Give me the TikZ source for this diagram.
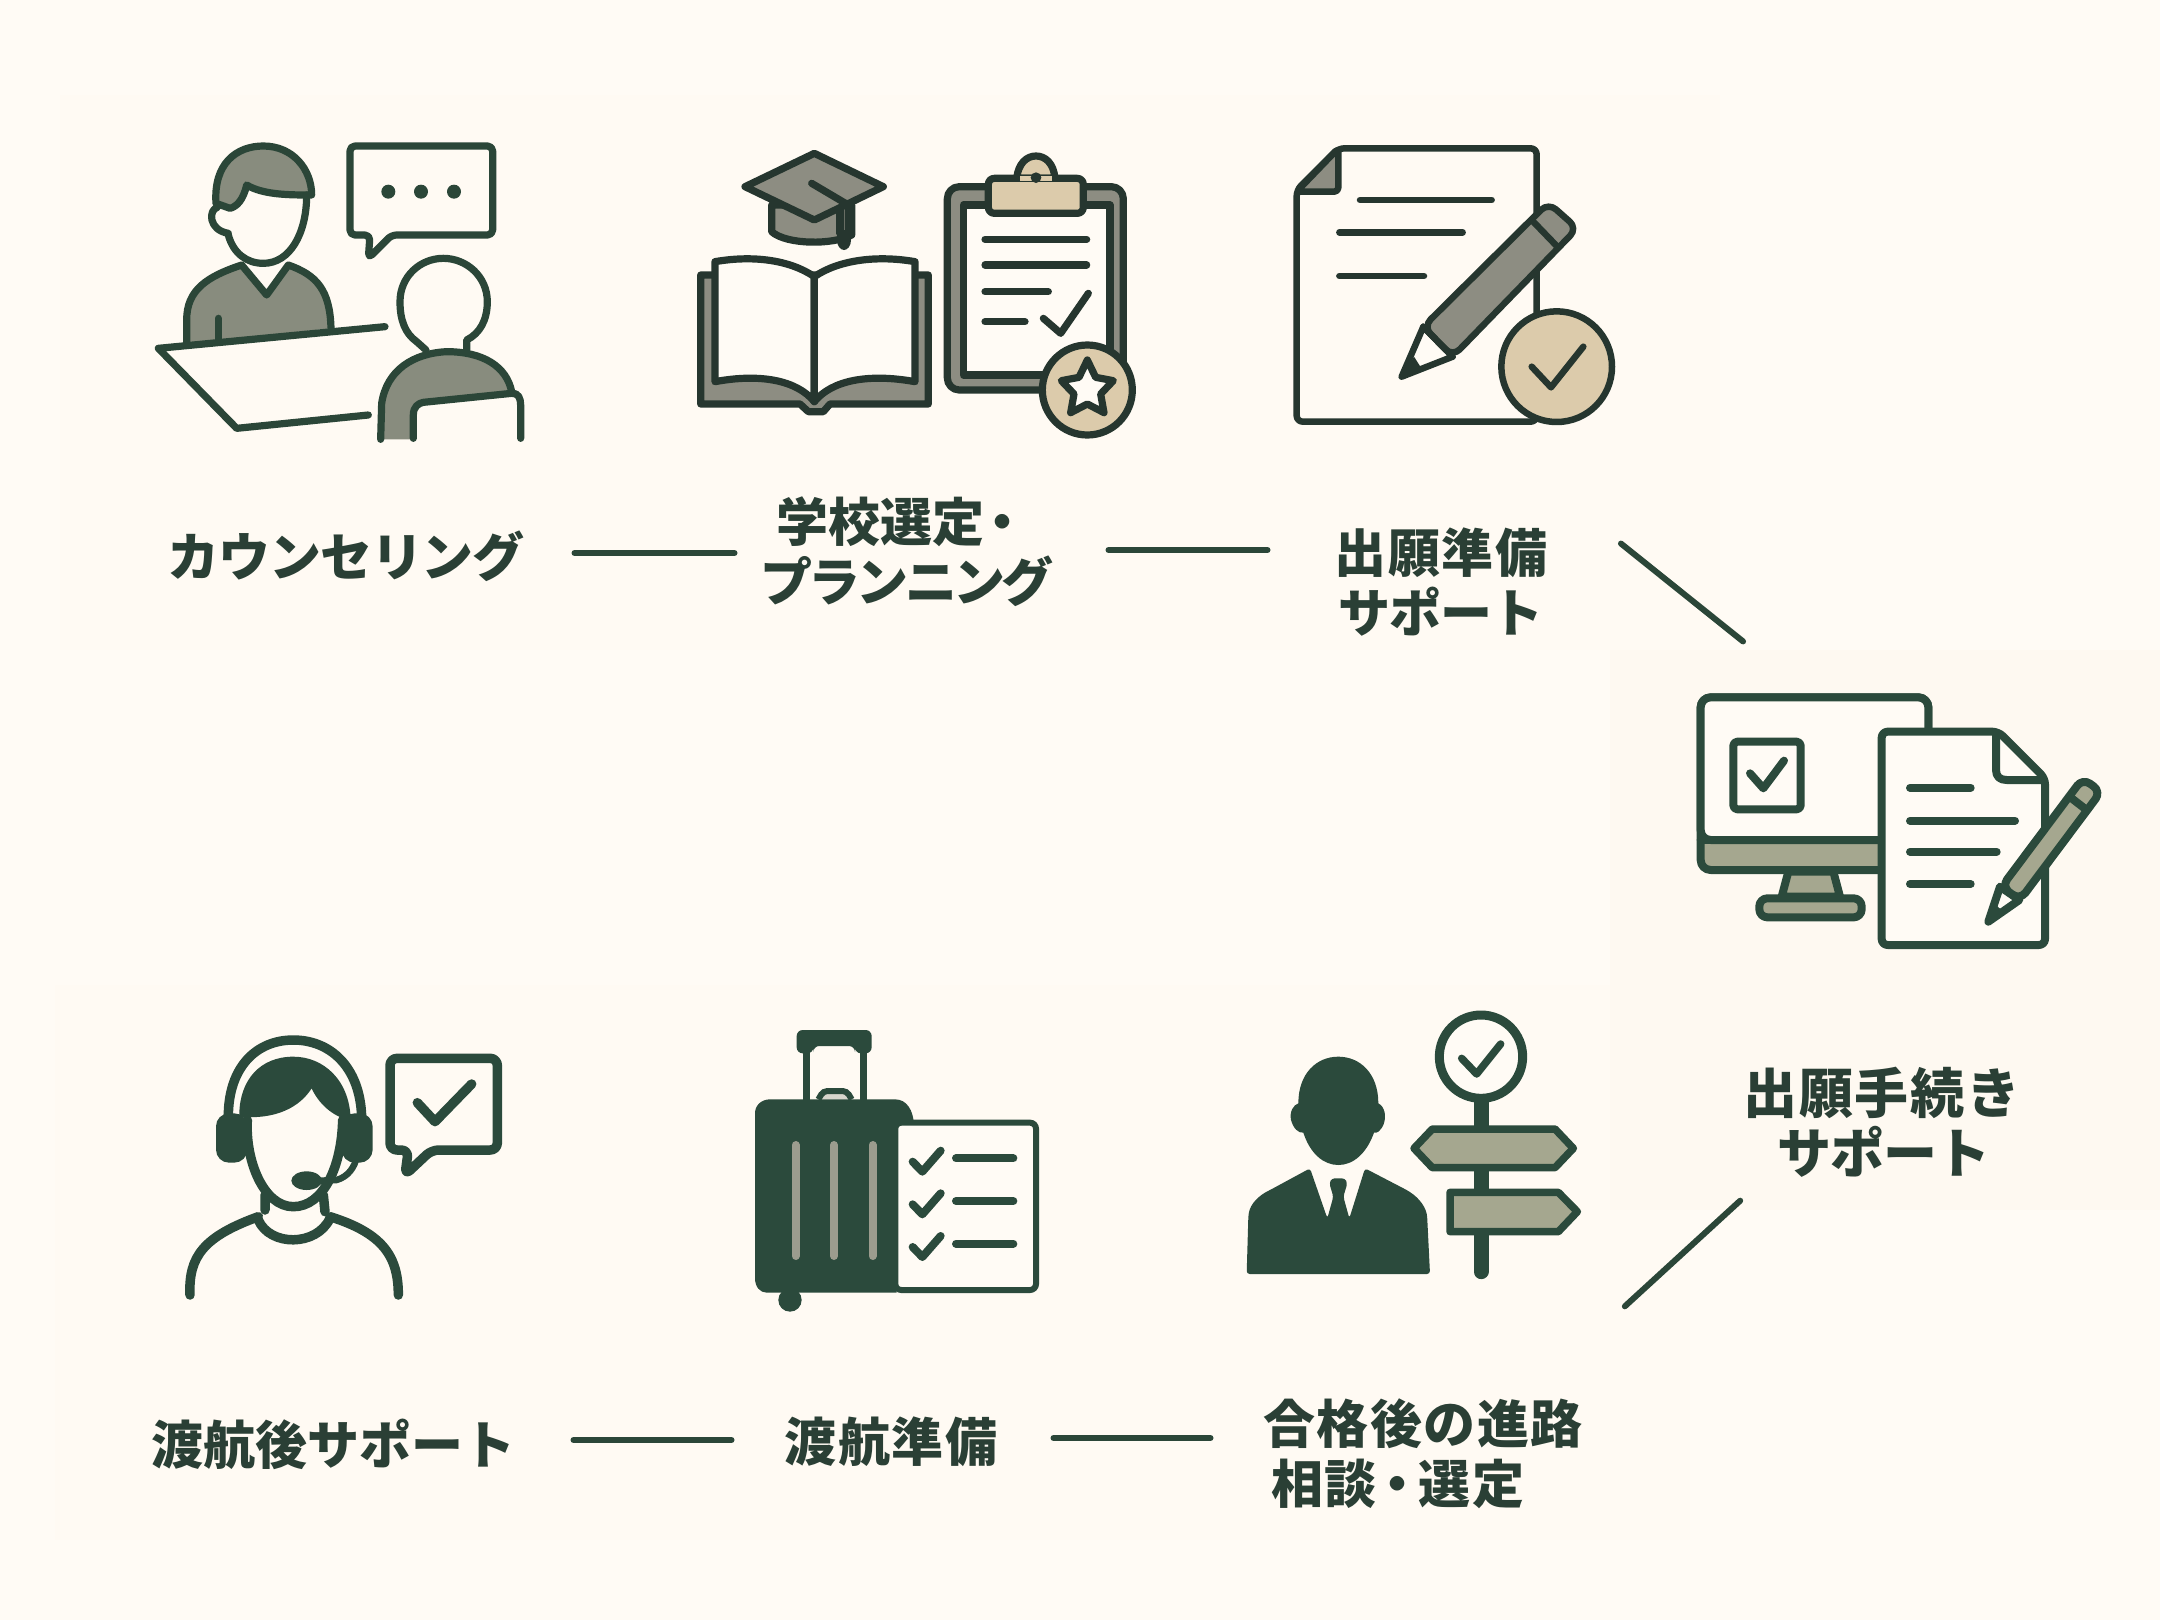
\documentclass[tikz,border=0pt]{standalone}
\usepackage{fontspec}
\newfontfamily\jpf{Noto Sans CJK JP}[LetterSpace=3]
\newfontfamily\jpz{Noto Sans CJK JP}[LetterSpace=0]
\newfontfamily\jpk{Noto Sans CJK JP}[LetterSpace=-2]
\newfontfamily\jpn{Noto Sans CJK JP}[LetterSpace=-7]
\definecolor{bg}{HTML}{FFFBF5}
\definecolor{bgb}{HTML}{FFFAF3}
\definecolor{bgr}{HTML}{FEF9F1}
\definecolor{dk}{HTML}{2B4638}
\definecolor{dkb}{HTML}{26362F}
\definecolor{dkg}{HTML}{2B4A3C}
\definecolor{txt}{HTML}{2A3F35}
\definecolor{gr}{HTML}{888C7E}
\definecolor{grb}{HTML}{8D8D82}
\definecolor{tan}{HTML}{DCCBAB}
\definecolor{sgn}{HTML}{A5A78F}
\definecolor{stp}{HTML}{9C9C8E}
\tikzset{
  zm/.style 2 args={shift={(#1,#2)},x=.33333pt,y=-.33333pt},
  ln/.style={draw=#1,line cap=round,line join=round},
  ln/.default=dk,
  lab/.style={font=\jpf\bfseries\fontsize{52}{60}\selectfont,text=txt,align=center,inner sep=0pt},
  conn/.style={draw=dk,line width=6pt,line cap=round,shorten <=2.5pt,shorten >=2.5pt}
}
\begin{document}
\begin{tikzpicture}[x=1pt,y=-1pt]
\useasboundingbox (0,0) rectangle (2160,1620);
\fill[bg] (0,0) rectangle (2160,1620);
\fill[bgb] (60,95) rectangle (1720,650);
\fill[bgb] (55,985) rectangle (1690,1540);
\fill[bgr] (1610,650) rectangle (2160,1210);

% ---- icon 1: counselling
\begin{scope}[zm={130}{120},line width=7.2pt]
\fill[gr] (170,670) -- (170,600) .. controls (170,510) and (230,470) .. (335,435) -- (410,525) -- (475,435) .. controls (560,465) and (600,510) .. (603,625) -- cycle;
\draw[ln] (170,670) -- (170,600) .. controls (170,510) and (230,470) .. (335,435) -- (410,525) -- (475,435) .. controls (560,465) and (600,510) .. (603,625);
\draw[ln] (265,595) -- (265,660);
\draw[ln,fill=gr] (258,250) .. controls (250,130) and (320,78) .. (400,78) .. controls (490,78) and (545,150) .. (545,225) .. controls (480,225) and (400,225) .. (350,195) .. controls (340,240) and (320,260) .. (300,265) -- cycle;
\draw[ln] (530,225) .. controls (530,340) and (480,430) .. (400,430) .. controls (350,430) and (310,400) .. (295,345);
\draw[ln] (262,262) .. controls (235,270) and (235,330) .. (295,340);
\draw[ln,rounded corners=5pt] (720,345) -- (660,345) -- (660,78) -- (1088,78) -- (1088,345) -- (785,345) -- (715,415) -- cycle;
\fill[dk] (775,215) circle[radius=21] (873,215) circle[radius=21] (972,215) circle[radius=21];
\draw[ln] (888,690) -- (860,665) .. controls (825,640) and (810,600) .. (810,545) .. controls (810,470) and (870,415) .. (940,415) .. controls (1010,415) and (1072,470) .. (1072,545) .. controls (1072,600) and (1050,640) .. (1010,660) -- (1010,690);
\fill[gr] (752,958) -- (755,850) .. controls (770,750) and (850,700) .. (950,695) .. controls (1060,695) and (1130,740) .. (1145,815) -- (880,848) .. controls (860,850) and (850,865) .. (850,885) -- (850,958) -- cycle;
\draw[ln] (752,958) -- (755,850) .. controls (770,750) and (850,700) .. (950,695) .. controls (1060,695) and (1130,740) .. (1145,815);
\draw[ln] (850,955) -- (850,885) .. controls (850,860) and (865,850) .. (880,847) -- (1145,820) .. controls (1165,818) and (1172,835) .. (1172,855) -- (1172,955);
\draw[ln] (765,620) -- (85,685) -- (320,925) -- (715,885);
\end{scope}

% ---- icon 2: school selection
\begin{scope}[zm={680}{130},line width=7.2pt]
\draw[ln=dkb,fill=grb] (275,225) -- (275,305) .. controls (320,345) and (460,345) .. (515,315) -- (515,225) -- cycle;
\draw[ln=dkb,fill=grb] (195,170) -- (403,70) -- (610,170) -- (403,270) -- cycle;
\draw[ln=dkb] (395,160) -- (505,225) -- (505,300);
\fill[dkb] (492,330) ellipse[x radius=21,y radius=30];
\draw[ln=dkb] (480,240) -- (480,310);
\draw[ln=dkb,fill=grb] (62,435) -- (62,822) -- (360,822) -- (385,845) -- (430,845) -- (450,822) -- (745,822) -- (745,435) -- cycle;
\draw[ln=dkb,fill=bg] (105,395) .. controls (220,375) and (330,390) .. (403,440) -- (403,815) .. controls (350,750) and (240,730) .. (105,755) -- cycle;
\draw[ln=dkb,fill=bg] (705,395) .. controls (590,375) and (476,390) .. (403,440) -- (403,815) .. controls (456,750) and (566,730) .. (705,755) -- cycle;
\draw[ln=dkb,fill=grb,rounded corners=12pt] (802,170) rectangle (1330,780);
\draw[ln=dkb,fill=bg] (850,225) rectangle (1290,735);
\draw[ln=dkb,fill=tan] (1010,145) .. controls (1015,100) and (1040,78) .. (1068,78) .. controls (1096,78) and (1121,100) .. (1125,145) -- cycle;
\draw[ln=dkb,fill=tan,rounded corners=6pt] (925,145) rectangle (1210,250);
\fill[tan] (1020,152) rectangle (1115,138);
\fill[dkb] (1068,143) circle[radius=16];
\draw[ln=dkb] (915,328) -- (1220,328) (915,405) -- (1220,405) (915,485) -- (1105,485) (915,575) -- (1035,575);
\draw[ln=dkb] (1090,565) -- (1142,610) -- (1225,490);
\draw[ln=dkb,fill=tan] (1222,780) circle[radius=135];
\draw[ln=dkb,fill=bg] (1222,690) -- (1247,742) -- (1300,752) -- (1262,792) -- (1272,848) -- (1222,822) -- (1172,848) -- (1182,792) -- (1144,752) -- (1197,742) -- cycle;
\end{scope}

% ---- icon 3: application preparation
\begin{scope}[zm={1270}{130},line width=6.5pt]
\draw[ln=dkb,rounded corners=6pt] (205,55) -- (800,55) -- (800,875) -- (80,875) -- (80,180) -- cycle;
\draw[ln=dkb,fill=grb,rounded corners=4pt] (205,55) -- (205,185) -- (80,185) -- cycle;
\draw[ln=dkb] (270,210) -- (665,210) (208,307) -- (578,307) (208,438) -- (462,438);
\draw[ln=dkb,fill=bg] (460,590) -- (395,740) -- (548,680) -- cycle;
\fill[dkb] (432,680) -- (395,740) -- (455,716) -- cycle;
\draw[ln=dkb,fill=grb,rounded corners=10pt] (460,590) -- (835,218) -- (922,295) -- (548,680) -- cycle;
\draw[ln=dkb] (460,590) -- (548,680) (785,270) -- (862,350);
\draw[ln=dkb,fill=tan] (860,710) circle[radius=166];
\draw[ln=dkb] (785,710) -- (843,772) -- (940,650);
\end{scope}

% ---- icon 4: online application
\begin{scope}[zm={1670}{670},line width=8pt]
\draw[ln=dkg,fill=sgn] (355,605) -- (335,680) -- (510,680) -- (490,605) -- cycle;
\draw[ln=dkg,fill=sgn,rounded corners=8pt] (268,685) rectangle (575,742);
\draw[ln=dkg,fill=sgn,rounded corners=10pt] (92,82) rectangle (775,600);
\draw[ln=dkg,fill=bg,rounded corners=10pt] (92,510) -- (92,82) -- (775,82) -- (775,510) -- cycle;
\draw[ln=dkg] (92,510) -- (775,510);
\draw[ln=dkg,rounded corners=4pt] (190,215) rectangle (392,418);
\draw[ln=dkg] (240,310) -- (280,355) -- (342,272);
\draw[ln=dkg,fill=bg,rounded corners=6pt] (635,185) -- (985,185) -- (1125,325) -- (1125,825) -- (635,825) -- cycle;
\draw[ln=dkg] (978,190) -- (978,300) .. controls (978,320) and (990,330) .. (1010,330) -- (1122,330);
\draw[ln=dkg] (720,353) -- (902,353) (720,452) -- (1035,452) (720,545) -- (980,545) (720,642) -- (902,642);
\draw[ln=dkg,fill=bg] (990,650) -- (955,755) -- (1048,690) -- cycle;
\draw[ln=dkg,fill=sgn,rounded corners=9pt] (995,650) -- (1238,325) -- (1293,365) -- (1050,690) -- cycle;
\draw[ln=dkg] (1205,385) -- (1250,420);
\fill[dkg] (972,700) -- (955,755) -- (1000,725) -- cycle;
\end{scope}

% ---- icon 5: path consultation
\begin{scope}[zm={1220}{1000}]
\fill[dkg] (235,310) .. controls (235,220) and (290,170) .. (355,170) .. controls (420,170) and (475,220) .. (475,310) .. controls (495,320) and (500,350) .. (490,375) .. controls (480,395) and (470,400) .. (462,398) .. controls (440,460) and (400,495) .. (355,495) .. controls (310,495) and (270,460) .. (250,398) .. controls (235,400) and (220,385) .. (213,360) .. controls (208,335) and (220,315) .. (235,310) -- cycle;
\fill[dkg,rounded corners=3pt] (80,822) -- (85,650) .. controls (90,610) and (120,585) .. (150,570) -- (270,505) -- (322,655) -- (340,590) -- (328,550) -- (335,535) -- (375,535) -- (382,550) -- (370,590) -- (388,655) -- (435,505) -- (560,570) .. controls (600,595) and (620,625) .. (622,660) -- (630,822) -- cycle;
\draw[dkg,line width=15pt,line cap=round] (783,290) -- (783,815);
\draw[dkg,line width=9pt,fill=bg] (783,170) circle[radius=125];
\draw[ln=dkg,line width=7.5pt] (725,175) -- (770,222) -- (842,132);
\draw[ln=dkg,line width=7.5pt,fill=sgn] (582,445) -- (637,387) -- (1005,387) -- (1060,445) -- (1005,503) -- (637,503) -- cycle;
\draw[ln=dkg,line width=7.5pt,fill=sgn] (690,577) -- (1015,577) -- (1072,635) -- (1015,695) -- (690,695) -- cycle;
\end{scope}

% ---- icon 6: travel preparation
\begin{scope}[zm={730}{1010}]
\fill[dkg,rounded corners=6pt] (200,130) -- (200,60) -- (425,60) -- (425,130) -- (375,130) -- (375,108) -- (250,108) -- (250,130) -- cycle;
\draw[dkg,line width=7pt] (229,110) -- (229,275) (400,110) -- (400,275);
\draw[dkg,line width=6pt,fill=stp!40!bg,rounded corners=4pt] (265,268) -- (280,243) -- (350,243) -- (365,268);
\fill[dkg] (75,310) .. controls (75,285) and (95,268) .. (120,268) -- (495,268) .. controls (530,268) and (550,300) .. (552,345) -- (500,345) -- (500,848) -- (110,848) .. controls (90,848) and (75,830) .. (75,805) -- cycle;
\fill[dkg] (180,870) circle[radius=35];
\draw[dkg,line width=6pt,fill=bg,rounded corners=6pt] (496,338) -- (918,338) -- (918,840) -- (496,840) -- cycle;
\draw[stp,line width=8pt,line cap=round] (197,405) -- (197,738) (312,405) -- (312,738) (428,405) -- (428,738);
\foreach \dy in {0,128,256} {
  \draw[ln=dkg,line width=8pt] (548,455+\dy) -- (577,485+\dy) -- (632,422+\dy);
  \draw[ln=dkg,line width=8pt] (678,445+\dy) -- (850,445+\dy);
}
\end{scope}

% ---- icon 7: after-arrival support
\begin{scope}[zm={160}{1010},line width=9.5pt]
\draw[ln=dkg] (205,320) .. controls (205,170) and (290,90) .. (400,90) .. controls (510,90) and (600,170) .. (605,320);
\fill[dkg] (238,310) .. controls (240,210) and (300,140) .. (400,140) .. controls (490,140) and (570,210) .. (572,330) .. controls (530,325) and (480,290) .. (455,235) .. controls (420,290) and (350,330) .. (238,320) -- cycle;
\fill[dkg,rounded corners=13pt] (168,310) rectangle (262,458);
\fill[dkg,rounded corners=13pt] (545,310) rectangle (638,458);
\draw[ln=dkg] (262,330) .. controls (255,450) and (310,590) .. (400,590) .. controls (490,590) and (545,470) .. (548,330);
\fill[dkg] (440,512) ellipse[x radius=46,y radius=28];
\draw[ln=dkg,line width=6.5pt] (480,512) -- (530,510) .. controls (565,500) and (585,470) .. (590,440);
\draw[ln=dkg] (315,555) -- (315,600) (490,555) -- (495,605);
\draw[ln=dkg] (295,630) .. controls (330,710) and (470,710) .. (510,625);
\draw[ln=dkg] (90,855) .. controls (85,740) and (130,680) .. (295,620);
\draw[ln=dkg] (715,855) .. controls (715,740) and (670,670) .. (510,620);
\draw[ln=dkg,rounded corners=7pt] (745,420) -- (690,420) -- (690,145) -- (1012,145) -- (1012,420) -- (815,420) -- (735,495) -- cycle;
\draw[ln=dkg] (772,278) -- (825,335) -- (935,222);
\end{scope}

% ---- labels
\node[lab] (lab1) at (346,556) {\jpk カウンセリング};
\node[lab] (lab2) at (907,552) {\jpz 学校選定\kern-8pt ・\kern10pt\\\jpn プランニング};
\node[lab] (lab3) at (1441,582) {出願準備\\\jpk サポート};
\node[lab,font=\jpf\bfseries\fontsize{54}{60}\selectfont] (lab4) at (1882,1122) {出願手続き\\\jpk\hspace{4pt}サポート};
\node[lab,align=left] (lab5) at (1423,1454) {合格後の進路\\\hspace{8pt}相談\kern-5pt ・\kern-5pt 選定};
\node[lab] (lab6) at (891,1442) {渡航準備};
\node[lab] (lab7) at (333,1444) {\jpz 渡航後サポート};
\coordinate (icon4in) at (1745,643);

% ---- connectors
\draw[conn] ([shift={(226,-3)}]lab1.center) -- ([shift={(-170,1)}]lab2.center);
\draw[conn] ([shift={(199,-2)}]lab2.center) -- ([shift={(-171,-32)}]lab3.center);
\draw[conn] ([shift={(178,-40)}]lab3.center) -- (icon4in);
\draw[conn] ([shift={(-140,77)}]lab4.center) -- ([shift={(200,-146)}]lab5.center);
\draw[conn] ([shift={(238,-4)}]lab7.center) -- ([shift={(-157,-2)}]lab6.center);
\draw[conn] ([shift={(160,-4)}]lab6.center) -- ([shift={(-210,-16)}]lab5.center);
\end{tikzpicture}
\end{document}
